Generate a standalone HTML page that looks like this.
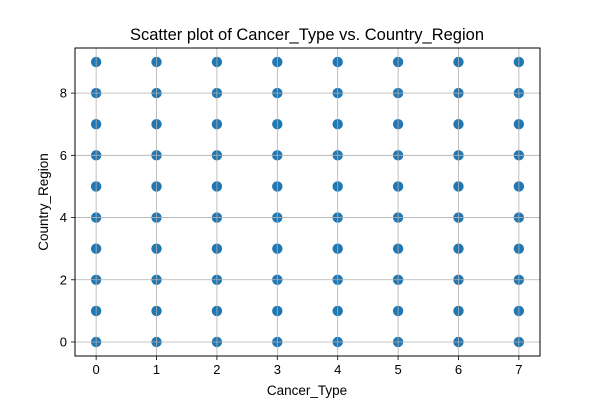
<!DOCTYPE html>
<html><head><meta charset="utf-8"><style>
html,body{margin:0;padding:0;background:#fff;}
svg{display:block;font-family:"Liberation Sans","DejaVu Sans",sans-serif;}
</style></head><body>
<svg id="chart" width="600" height="400" viewBox="0 0 600 400">
<rect width="600" height="400" fill="#fff"/>
<g id="points"></g>
<g id="grid"></g>
<rect x="75" y="48" width="465" height="308" fill="none" stroke="#000" stroke-width="1"/>
<g id="xticks"></g>
<g id="yticks"></g>
<text x="307" y="40" font-size="16.5" text-anchor="middle">Scatter plot of Cancer_Type vs. Country_Region</text>
<text x="307" y="395" font-size="13.5" text-anchor="middle">Cancer_Type</text>
<text x="48" y="202" font-size="13.5" text-anchor="middle" transform="rotate(-90 48 202)">Country_Region</text>
</svg>
<script>
const xTicks = [0,1,2,3,4,5,6,7];
const yTicks = [0,2,4,6,8];
const xValues = [0,0,0,0,0,0,0,0,0,0, 1,1,1,1,1,1,1,1,1,1, 2,2,2,2,2,2,2,2,2,2, 3,3,3,3,3,3,3,3,3,3, 4,4,4,4,4,4,4,4,4,4, 5,5,5,5,5,5,5,5,5,5, 6,6,6,6,6,6,6,6,6,6, 7,7,7,7,7,7,7,7,7,7];
const yValues = [0,1,2,3,4,5,6,7,8,9, 0,1,2,3,4,5,6,7,8,9, 0,1,2,3,4,5,6,7,8,9, 0,1,2,3,4,5,6,7,8,9, 0,1,2,3,4,5,6,7,8,9, 0,1,2,3,4,5,6,7,8,9, 0,1,2,3,4,5,6,7,8,9, 0,1,2,3,4,5,6,7,8,9];

const NS = "http://www.w3.org/2000/svg";
const L = 75, R = 540, T = 48, B = 356;
const xMin = -0.35, xMax = 7.35, yMin = -0.45, yMax = 9.45;
function sx(v){ return L + (v - xMin) / (xMax - xMin) * (R - L); }
function sy(v){ return B - (v - yMin) / (yMax - yMin) * (B - T); }
function mk(tag, attrs){ const e = document.createElementNS(NS, tag); for (const k in attrs) e.setAttribute(k, attrs[k]); return e; }

const grid = document.getElementById('grid');
const xg = document.getElementById('xticks');
const yg = document.getElementById('yticks');
xTicks.forEach(t => {
  const x = sx(t);
  const gl = mk('line', {x1:x, x2:x, y1:T, y2:B, stroke:'#b0b0b0', 'stroke-width':0.8});
  
  
  grid.appendChild(gl);
  const tk = mk('line', {x1:x, x2:x, y1:B, y2:B+4, stroke:'#000', 'stroke-width':0.8});
  
  
  xg.appendChild(tk);
  const tx = mk('text', {x:x, y:B+18, 'font-size':13, 'text-anchor':'middle'});
  tx.textContent = t;
  
  
  xg.appendChild(tx);
});
yTicks.forEach(t => {
  const y = sy(t);
  const gl = mk('line', {x1:L, x2:R, y1:y, y2:y, stroke:'#b0b0b0', 'stroke-width':0.8});
  
  
  grid.appendChild(gl);
  const tk = mk('line', {x1:L-4, x2:L, y1:y, y2:y, stroke:'#000', 'stroke-width':0.8});
  
  
  yg.appendChild(tk);
  const tx = mk('text', {x:L-8, y:y+4.5, 'font-size':13, 'text-anchor':'end'});
  tx.textContent = t;
  
  
  yg.appendChild(tx);
});
const pg = document.getElementById('points');
for (let i = 0; i < xValues.length; i++) {
  const c = mk('circle', {cx:sx(xValues[i]), cy:sy(yValues[i]), r:5.2, fill:'#1f77b4'});
  
  
  pg.appendChild(c);
}
</script>
</body></html>
